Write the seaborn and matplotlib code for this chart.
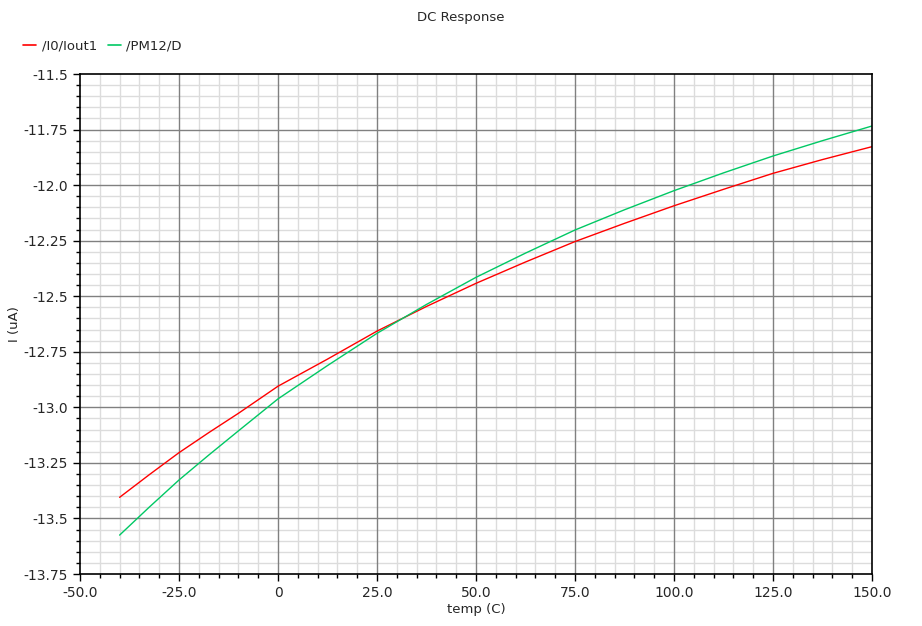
import numpy as np
import pandas as pd
import matplotlib
matplotlib.use("Agg")
import matplotlib.pyplot as plt
from matplotlib.ticker import MultipleLocator, FuncFormatter
import seaborn as sns

# values (temp sweep, current in uA)
temp = [-40, -32.5, -25, -17.5, -10, 0, 12.5, 25, 37.5, 50, 62.5, 75, 87.5, 100, 112.5, 125, 137.5, 150]
iout1 = [-13.405, -13.303, -13.204, -13.114, -13.027, -12.905, -12.783, -12.657, -12.546,
         -12.442, -12.346, -12.254, -12.172, -12.093, -12.019, -11.947, -11.885, -11.827]
pm12_d = [-13.575, -13.449, -13.327, -13.215, -13.106, -12.962, -12.812, -12.667, -12.537,
          -12.415, -12.306, -12.202, -12.111, -12.025, -11.945, -11.869, -11.800, -11.734]

series_names = ["/I0/Iout1", "/PM12/D"]
colors = ["#ff0000", "#00c864"]

df = pd.DataFrame({
    "temp": temp * 2,
    "I": iout1 + pm12_d,
    "signal": [series_names[0]] * len(temp) + [series_names[1]] * len(temp),
})

sns.set_style("white")
plt.rcParams["font.family"] = ["DejaVu Sans"]

fig = plt.figure(figsize=(9.22, 6.26), dpi=100)
ax = fig.add_axes([80 / 922, 1 - 574 / 626, 792 / 922, 500 / 626])

sns.lineplot(data=df, x="temp", y="I", hue="signal", palette=dict(zip(series_names, colors)),
             linewidth=1.0, ax=ax, legend=False, sort=False, estimator=None, zorder=3)

ax.set_xlim(-50, 150)
ax.set_ylim(-13.75, -11.5)
ax.xaxis.set_major_locator(MultipleLocator(25))
ax.xaxis.set_minor_locator(MultipleLocator(5))
ax.yaxis.set_major_locator(MultipleLocator(0.25))
ax.yaxis.set_minor_locator(MultipleLocator(0.05))


def xfmt(v, pos):
    if abs(v) < 1e-9:
        return "0"
    return f"{v:.1f}"


def yfmt(v, pos):
    s = f"{v:.2f}"
    if s.endswith("0"):
        s = s[:-1]
    return s


ax.xaxis.set_major_formatter(FuncFormatter(xfmt))
ax.yaxis.set_major_formatter(FuncFormatter(yfmt))

# light minor grid underneath, dark major grid drawn on top of it
ax.grid(which="minor", color="#dcdcdc", linewidth=1.0, linestyle="-")
ax.grid(which="major", visible=False)
ax.set_axisbelow(True)
for xv in ax.get_xticks():
    if -50 < xv < 150:
        ax.axvline(xv, color="#808080", linewidth=1.0, zorder=1)
for yv in ax.get_yticks():
    if -13.75 < yv < -11.5:
        ax.axhline(yv, color="#808080", linewidth=1.0, zorder=1)

for sp in ax.spines.values():
    sp.set_color("black")
    sp.set_linewidth(1.2)
    sp.set_zorder(4)

ax.tick_params(which="major", direction="out", length=5, width=1, color="black",
               labelsize=10, bottom=True, left=True)
ax.tick_params(which="minor", direction="out", length=3, width=1, color="black",
               bottom=True, left=True)

ax.set_xlabel("temp (C)", fontsize=9.5, labelpad=2)
ax.set_ylabel("I (uA)", fontsize=9.5, labelpad=2)
fig.text(0.5, 1 - 17 / 626, "DC Response", ha="center", va="center", fontsize=9.5)

handles = [plt.Line2D([], [], color=c, lw=1.2) for c in colors]
fig.legend(handles, series_names, loc="upper left", bbox_to_anchor=(18 / 922, 1 - 34 / 626),
           ncol=2, frameon=False, fontsize=9.5, handlelength=1.0, handletextpad=0.4,
           columnspacing=0.8, borderaxespad=0)

fig.savefig("out.png", dpi=100)
